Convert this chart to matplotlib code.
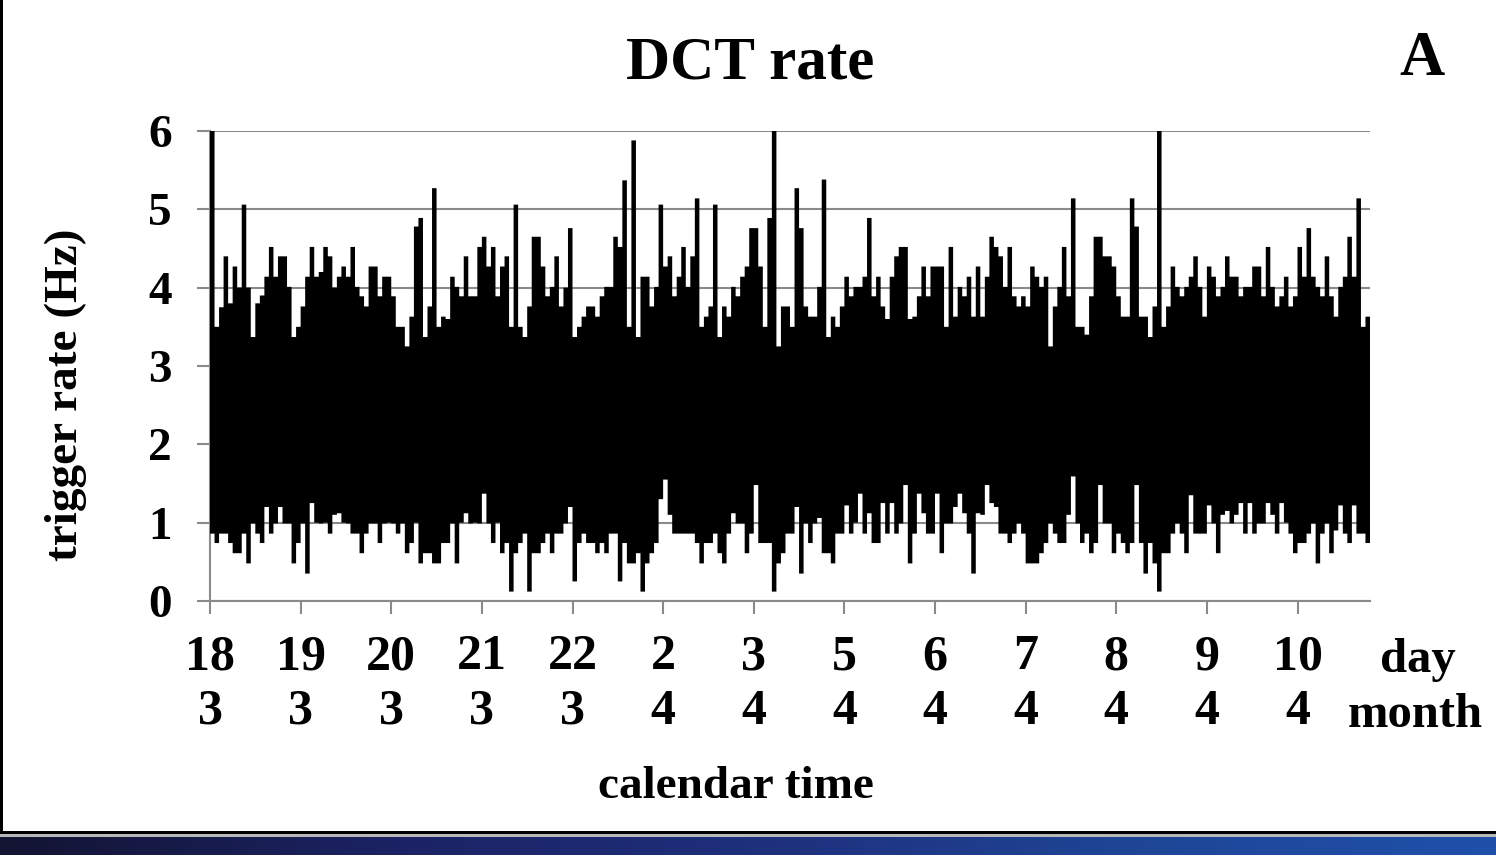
import numpy as np
import matplotlib
matplotlib.use("Agg")
import matplotlib.pyplot as plt
from matplotlib.colors import LinearSegmentedColormap
from matplotlib.patches import Rectangle

plt.rcParams['font.family'] = ['Liberation Serif', 'DejaVu Serif']
plt.rcParams['font.weight'] = 'bold'

# calendar tick labels (equally spaced measurement days)
day_labels = ["18", "19", "20", "21", "22", "2", "3", "5", "6", "7", "8", "9", "10"]
month_labels = ["3", "3", "3", "3", "3", "4", "4", "4", "4", "4", "4", "4", "4"]

# DCT trigger rate (Hz): per-interval maximum and minimum, 20 intervals per day tick
rate_high = [
    6.0, 3.5, 3.75, 4.4, 3.8, 4.27, 4.0, 5.06, 4.0, 3.37,
    3.8, 3.9, 4.14, 4.52, 4.14, 4.4, 4.4, 4.01, 3.37, 3.5,
    3.76, 4.14, 4.52, 4.14, 4.2, 4.52, 4.4, 4.0, 4.14, 4.27,
    4.14, 4.52, 4.01, 3.89, 3.76, 4.27, 4.27, 3.89, 4.14, 4.14,
    3.89, 3.5, 3.5, 3.25, 3.63, 4.78, 4.89, 3.37, 3.76, 5.27,
    3.5, 3.63, 3.6, 4.14, 4.01, 3.89, 4.4, 3.89, 3.89, 4.52,
    4.65, 4.27, 4.52, 3.89, 4.27, 4.4, 3.5, 5.06, 3.5, 3.37,
    3.76, 4.65, 4.65, 4.27, 3.89, 4.01, 4.4, 3.76, 4.0, 4.76,
    3.37, 3.5, 3.63, 3.76, 3.76, 3.63, 3.89, 4.01, 4.01, 4.65,
    4.52, 5.37, 3.5, 5.88, 3.37, 4.14, 4.14, 3.76, 4.01, 5.06,
    4.27, 4.4, 3.89, 4.14, 4.52, 4.01, 4.4, 5.14, 3.5, 3.63,
    3.76, 5.06, 3.37, 3.76, 3.63, 4.01, 3.89, 4.14, 4.27, 4.76,
    4.76, 4.27, 3.5, 4.89, 6.0, 3.25, 3.76, 3.76, 3.5, 5.27,
    4.76, 3.76, 3.63, 3.63, 4.01, 5.38, 3.37, 3.63, 3.5, 3.76,
    4.14, 3.89, 4.01, 4.01, 4.14, 4.89, 3.89, 4.14, 3.76, 3.6,
    4.14, 4.4, 4.52, 4.52, 3.6, 3.63, 3.89, 4.27, 3.89, 4.27,
    4.27, 4.27, 3.5, 4.52, 3.63, 4.01, 3.89, 4.14, 3.63, 4.27,
    3.63, 4.14, 4.65, 4.52, 4.4, 4.01, 4.52, 3.89, 3.76, 3.89,
    3.76, 4.27, 4.14, 4.01, 4.14, 3.25, 3.76, 4.01, 4.52, 3.89,
    5.14, 3.5, 3.5, 3.4, 3.89, 4.65, 4.65, 4.4, 4.4, 4.27,
    3.89, 3.63, 3.63, 5.14, 4.78, 3.63, 3.63, 3.37, 3.76, 6.0,
    3.5, 3.76, 4.27, 4.01, 3.89, 4.01, 4.14, 4.4, 4.01, 3.63,
    4.27, 4.14, 3.89, 4.01, 4.4, 4.14, 4.14, 3.89, 4.01, 4.01,
    4.27, 4.27, 3.89, 4.52, 4.01, 3.76, 3.89, 4.14, 3.76, 3.89,
    4.52, 4.14, 4.76, 4.14, 4.01, 3.89, 4.4, 3.89, 3.63, 4.01,
    4.14, 4.65, 4.14, 5.14, 3.5, 3.63,
]
rate_low = [
    0.86, 0.74, 0.86, 0.86, 0.74, 0.61, 0.61, 0.86, 0.48, 0.99,
    0.86, 0.74, 1.2, 0.86, 0.99, 1.2, 0.99, 0.99, 0.48, 0.74,
    0.99, 0.35, 1.25, 1.0, 0.99, 1.0, 0.86, 1.1, 1.12, 1.0,
    0.99, 0.86, 0.86, 0.61, 0.86, 0.99, 0.99, 0.74, 0.99, 1.0,
    0.99, 0.86, 0.99, 0.61, 0.74, 1.0, 0.48, 0.61, 0.61, 0.48,
    0.48, 0.74, 0.74, 0.99, 0.48, 1.0, 1.12, 0.99, 1.0, 0.99,
    1.37, 0.99, 0.74, 1.0, 0.61, 0.74, 0.12, 0.61, 0.74, 0.86,
    0.12, 0.61, 0.61, 0.74, 0.86, 0.61, 0.86, 0.86, 0.99, 1.2,
    0.25, 0.74, 0.86, 0.74, 0.74, 0.61, 0.74, 0.61, 0.86, 0.86,
    0.25, 0.74, 0.48, 0.48, 0.61, 0.12, 0.48, 0.61, 0.74, 1.3,
    1.55, 1.1, 0.86, 0.86, 0.86, 0.86, 0.86, 0.74, 0.48, 0.74,
    0.74, 0.86, 0.61, 0.48, 0.86, 1.12, 0.99, 0.99, 0.61, 0.86,
    1.48, 0.74, 0.74, 0.74, 0.12, 0.48, 0.61, 0.86, 0.86, 1.2,
    0.35, 0.99, 0.74, 0.99, 1.06, 0.61, 0.61, 0.48, 0.86, 0.86,
    1.22, 0.86, 1.0, 1.37, 0.86, 1.12, 0.74, 0.74, 1.25, 0.86,
    1.25, 0.86, 0.99, 1.48, 0.48, 0.86, 1.37, 1.12, 0.86, 0.86,
    1.37, 0.61, 0.99, 0.99, 1.2, 1.37, 1.12, 0.86, 0.35, 1.12,
    1.1, 1.48, 1.25, 1.2, 0.86, 0.86, 0.74, 0.86, 0.99, 0.86,
    0.48, 0.48, 0.48, 0.61, 0.74, 0.99, 0.86, 0.74, 0.74, 1.1,
    1.59, 0.99, 0.74, 0.86, 0.61, 0.74, 1.48, 0.99, 0.99, 0.61,
    0.86, 0.74, 0.61, 0.74, 1.48, 0.74, 0.35, 0.74, 0.48, 0.12,
    0.61, 0.61, 0.86, 0.99, 0.86, 0.61, 1.35, 0.86, 0.86, 0.86,
    1.22, 0.99, 0.61, 1.1, 1.15, 0.99, 1.1, 1.25, 0.86, 1.25,
    0.86, 0.99, 0.99, 1.25, 1.1, 0.86, 1.25, 1.0, 0.86, 0.61,
    0.74, 0.74, 0.86, 0.99, 0.48, 0.86, 0.99, 0.61, 0.9, 1.22,
    0.86, 0.74, 1.22, 0.86, 0.86, 0.74,
]
intervals_per_tick = 20

W, H = 1496, 855
GRID = '#8a8a8a'


def fx(px):
    return px / W


def fy(py):
    return 1 - py / H


fig = plt.figure(figsize=(W / 100, H / 100), dpi=100)
fig.patch.set_facecolor('white')

ax = fig.add_axes([fx(210), fy(601), fx(1370) - fx(210), fy(131) - fy(601)])
edges = np.arange(len(rate_high) + 1) / intervals_per_tick
ax.stairs(rate_high, edges, baseline=rate_low, fill=True, color='black', lw=0, zorder=3)

ax.set_xlim(0, 12.8)
ax.set_ylim(0, 6)
ax.set_yticks(range(7))
ax.set_xticks(range(len(day_labels)))
ax.set_xticklabels([f"{d}\n{m}" for d, m in zip(day_labels, month_labels)],
                   fontsize=36, linespacing=1.24)
ax.set_yticklabels([str(v) for v in range(7)], fontsize=34)
ax.yaxis.grid(True, color=GRID, lw=1.5, zorder=1)
ax.set_axisbelow(True)
for s in ('top', 'right'):
    ax.spines[s].set_visible(False)
for s in ('left', 'bottom'):
    ax.spines[s].set_color(GRID)
    ax.spines[s].set_linewidth(1.5)
ax.tick_params(axis='y', length=9.5, width=1.5, color=GRID, pad=18)
ax.tick_params(axis='x', length=9, width=1.5, color=GRID, pad=15)

fig.text(fx(750), fy(78), "DCT rate", fontsize=44, ha='center', va='baseline')
fig.text(fx(1422), fy(75), "A", fontsize=45, ha='center', va='baseline')
fig.text(fx(66), fy(395), "trigger rate (Hz)", fontsize=34, rotation=90,
         ha='center', va='center')
fig.text(fx(736), fy(798), "calendar time", fontsize=34, ha='center', va='baseline')
fig.text(fx(1418), fy(672), "day", fontsize=35, ha='center', va='baseline')
fig.text(fx(1415), fy(727), "month", fontsize=35, ha='center', va='baseline')

# slide frame: left border, bottom rule and gradient footer band
fig.add_artist(Rectangle((0, fy(833)), fx(3), 1 - fy(833), transform=fig.transFigure,
                         color='black', lw=0))
fig.add_artist(Rectangle((0, fy(834)), 1, 3 / H, transform=fig.transFigure,
                         color='black', lw=0))
fig.add_artist(Rectangle((0, fy(837)), 1, 3 / H, transform=fig.transFigure,
                         color='#b8b8b8', lw=0))
band = fig.add_axes([0, 0, 1, 18 / H])
band.axis('off')
footer_cmap = LinearSegmentedColormap.from_list(
    'footer', ['#131432', '#1b2262', '#1e2f7c', '#1f4595', '#1e50aa'])
band.imshow(np.linspace(0, 1, 512).reshape(1, -1), aspect='auto', cmap=footer_cmap,
            extent=(0, 1, 0, 1))
band.set_xlim(0, 1)
band.set_ylim(0, 1)

fig.savefig('out.png', dpi=100)
